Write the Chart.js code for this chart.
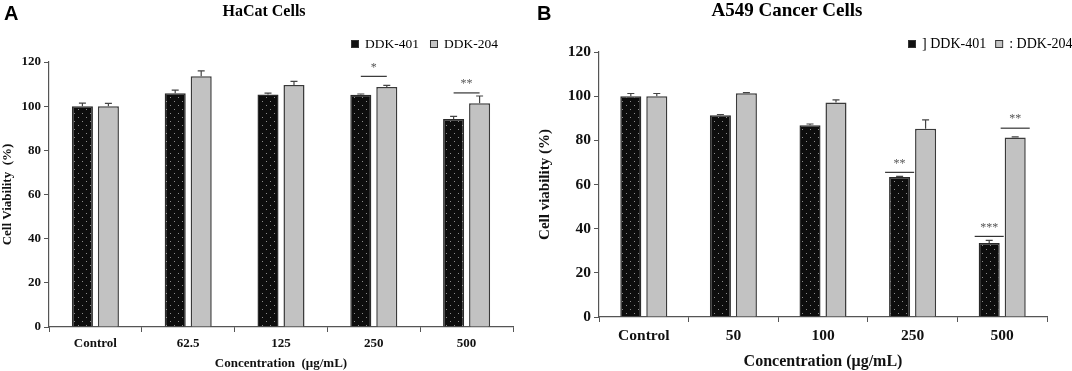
<!DOCTYPE html>
<html>
<head>
<meta charset="utf-8">
<script src="https://cdn.jsdelivr.net/npm/chart.js@4/dist/chart.umd.min.js"></script>
<style>
  html, body { margin: 0; padding: 0; background: #fff; }
  .panel { position: absolute; top: 0; width: 536px; height: 371px; }
  #panelA { left: 0; }
  #panelB { left: 536px; }
</style>
</head>
<body>
<div class="panel" id="panelA"><canvas id="chartA" width="536" height="371"></canvas></div>
<div class="panel" id="panelB"><canvas id="chartB" width="536" height="371"></canvas></div>
<script>
// Panel A: HaCat cells
var categoriesA = ['Control', '62.5', '125', '250', '500'];
var ddk401A = [100, 105.8, 105.3, 105.2, 94.2];
var ddk401ErrA = [1.4, 1.5, 0.6, 0.3, 1.2];
var ddk204A = [100, 113.6, 109.6, 108.7, 101.3];
var ddk204ErrA = [1.3, 2.4, 1.6, 0.7, 3.3];
// significance: category index, bar(s) spanned, y value of the line, label
var sigA = [
  { index: 3, bars: [0, 1], y: 113.5, label: '*' },
  { index: 4, bars: [0, 1], y: 106, label: '**' }
];

// Panel B: A549 cancer cells
var categoriesB = ['Control', '50', '100', '250', '500'];
var ddk401B = [100, 91.4, 86.8, 63.4, 33.5];
var ddk401ErrB = [1.2, 0.3, 0.6, 0.3, 1.2];
var ddk204B = [100, 101.3, 97.1, 85.3, 81.3];
var ddk204ErrB = [1.2, 0.3, 1.2, 4.0, 0.3];
var sigB = [
  { index: 3, bars: [0], y: 65.5, label: '**' },
  { index: 4, bars: [0], y: 36.5, label: '***' },
  { index: 4, bars: [1], y: 85.5, label: '**' }
];

var yTicks = [0, 20, 40, 60, 80, 100, 120];

function dotPattern() {
  var pc = document.createElement('canvas');
  pc.width = 8;
  pc.height = 8;
  var c = pc.getContext('2d');
  c.fillStyle = '#0d0d0d';
  c.fillRect(0, 0, 8, 8);
  c.fillStyle = '#8c8c8c';
  c.fillRect(2, 1, 1, 1);
  c.fillRect(6, 5, 1, 1);
  return c.createPattern(pc, 'repeat');
}

var errorBars = {
  id: 'errorBars',
  afterDatasetsDraw: function (chart, args, opts) {
    var ctx = chart.ctx;
    var y = chart.scales.y;
    ctx.save();
    ctx.strokeStyle = '#444';
    ctx.lineWidth = 1.2;
    chart.data.datasets.forEach(function (ds, di) {
      var meta = chart.getDatasetMeta(di);
      meta.data.forEach(function (bar, i) {
        var top = y.getPixelForValue(ds.data[i] + ds.errors[i]);
        ctx.beginPath();
        ctx.moveTo(bar.x, bar.y);
        ctx.lineTo(bar.x, top);
        ctx.moveTo(bar.x - 3.5, top);
        ctx.lineTo(bar.x + 3.5, top);
        ctx.stroke();
      });
    });
    ctx.restore();
  }
};

var sigMarks = {
  id: 'sigMarks',
  afterDatasetsDraw: function (chart, args, opts) {
    var ctx = chart.ctx;
    var y = chart.scales.y;
    ctx.save();
    ctx.strokeStyle = '#333';
    ctx.fillStyle = '#555';
    ctx.lineWidth = 1.2;
    ctx.font = opts.starFont;
    ctx.textAlign = 'center';
    ctx.textBaseline = 'middle';
    opts.marks.forEach(function (m) {
      var bars = m.bars.map(function (d) { return chart.getDatasetMeta(d).data[m.index]; });
      var x0, x1;
      if (bars.length > 1) {
        x0 = bars[0].x;
        x1 = bars[bars.length - 1].x;
      } else {
        x0 = bars[0].x - bars[0].width / 2 - 4;
        x1 = bars[0].x + bars[0].width / 2 + 4;
      }
      var py = y.getPixelForValue(m.y);
      ctx.beginPath();
      ctx.moveTo(x0, py);
      ctx.lineTo(x1, py);
      ctx.stroke();
      ctx.fillText(m.label, (x0 + x1) / 2, py - opts.starGap);
    });
    ctx.restore();
  }
};

var decorations = {
  id: 'decorations',
  afterDraw: function (chart, args, opts) {
    var ctx = chart.ctx;
    ctx.save();
    // panel letter
    ctx.fillStyle = '#000';
    ctx.font = 'bold 20px "Liberation Sans", Arial, sans-serif';
    ctx.textAlign = 'left';
    ctx.textBaseline = 'middle';
    ctx.fillText(opts.letter, opts.letterX, 14);
    // title
    ctx.font = opts.titleFont;
    ctx.textAlign = 'center';
    ctx.fillText(opts.title, opts.titleX, opts.titleY);
    // legend
    ctx.font = opts.legendFont;
    ctx.textAlign = 'left';
    var x = opts.legendX;
    chart.data.datasets.forEach(function (ds, di) {
      ctx.fillStyle = di === 0 ? '#111' : '#c4c4c4';
      ctx.fillRect(x, opts.legendY - 4, 7, 7);
      ctx.strokeStyle = '#333';
      ctx.lineWidth = 1;
      ctx.strokeRect(x + 0.5, opts.legendY - 3.5, 7, 7);
      ctx.fillStyle = '#000';
      var label = opts.legendLabels[di];
      ctx.fillText(label, x + opts.legendTextGap, opts.legendY);
      x += opts.legendTextGap + ctx.measureText(label).width + opts.legendItemGap;
    });
    ctx.restore();
  }
};

function makeChart(id, cfg) {
  var serif = '"Liberation Serif", "Times New Roman", serif';
  return new Chart(document.getElementById(id), {
    type: 'bar',
    data: {
      labels: cfg.labels,
      datasets: [
        {
          label: 'DDK-401',
          data: cfg.s1,
          errors: cfg.e1,
          backgroundColor: dotPattern(),
          borderColor: '#2a2a2a',
          borderWidth: 1.5,
          categoryPercentage: cfg.catPct,
          barPercentage: 0.81
        },
        {
          label: 'DDK-204',
          data: cfg.s2,
          errors: cfg.e2,
          backgroundColor: '#c2c2c2',
          borderColor: '#3a3a3a',
          borderWidth: 1.5,
          categoryPercentage: cfg.catPct,
          barPercentage: 0.81
        }
      ]
    },
    options: {
      responsive: false,
      animation: false,
      devicePixelRatio: 1,
      layout: { padding: { left: 0, right: cfg.padRight, top: cfg.padTop, bottom: 0 } },
      plugins: {
        legend: { display: false },
        title: { display: false },
        tooltip: { enabled: false },
        decorations: cfg.deco,
        sigMarks: { marks: cfg.sig, starFont: cfg.starFont, starGap: 9 }
      },
      scales: {
        x: {
          grid: { display: true, drawOnChartArea: false, tickLength: 5, color: '#555', offset: true },
          border: { color: '#555', width: 1.2 },
          ticks: { color: '#111', font: { family: serif, size: cfg.tickSize, weight: 'bold' }, padding: cfg.xTickPad },
          title: {
            display: true,
            text: cfg.xTitle,
            color: '#111',
            font: { family: serif, size: cfg.xTitleSize, weight: 'bold' },
            padding: { top: 0, bottom: 0 }
          },
          afterFit: function (s) { s.height = cfg.xHeight; }
        },
        y: {
          min: 0,
          max: 120,
          afterBuildTicks: function (s) { s.ticks = yTicks.map(function (v) { return { value: v }; }); },
          grid: { display: true, drawOnChartArea: false, tickLength: 5, color: '#555' },
          border: { color: '#555', width: 1.2 },
          ticks: { color: '#111', font: { family: serif, size: cfg.yTickSize, weight: 'bold' }, padding: 3 },
          title: {
            display: true,
            text: cfg.yTitle,
            color: '#111',
            font: { family: serif, size: cfg.yTitleSize, weight: 'bold' },
            padding: { top: 0, bottom: 0 }
          },
          afterFit: function (s) { s.width = cfg.yWidth; }
        }
      }
    },
    plugins: [errorBars, sigMarks, decorations]
  });
}

makeChart('chartA', {
  labels: categoriesA,
  s1: ddk401A, e1: ddk401ErrA, s2: ddk204A, e2: ddk204ErrA,
  sig: sigA,
  catPct: 0.56,
  padRight: 23, padTop: 62,
  yWidth: 49, xHeight: 44,
  tickSize: 13, yTickSize: 13, xTickPad: 4,
  xTitle: 'Concentration  (μg/mL)', xTitleSize: 13,
  yTitle: 'Cell Viability  (%)', yTitleSize: 13,
  starFont: '12px "Liberation Serif", serif',
  deco: {
    letter: 'A', letterX: 4,
    title: 'HaCat Cells', titleX: 264, titleY: 12, titleFont: 'bold 16px "Liberation Serif", serif',
    legendX: 351, legendY: 44, legendTextGap: 14, legendItemGap: 11,
    legendLabels: ['DDK-401', 'DDK-204'],
    legendFont: '13.5px "Liberation Serif", serif'
  }
});

makeChart('chartB', {
  labels: categoriesB,
  s1: ddk401B, e1: ddk401ErrB, s2: ddk204B, e2: ddk204ErrB,
  sig: sigB,
  catPct: 0.58,
  padRight: 25, padTop: 52,
  yWidth: 63, xHeight: 54,
  tickSize: 15.5, yTickSize: 15.5, xTickPad: 5,
  xTitle: 'Concentration (μg/mL)', xTitleSize: 16,
  yTitle: 'Cell viability (%)', yTitleSize: 15,
  starFont: '12px "Liberation Serif", serif',
  deco: {
    letter: 'B', letterX: 1,
    title: 'A549 Cancer Cells', titleX: 251, titleY: 11, titleFont: 'bold 19px "Liberation Serif", serif',
    legendX: 372, legendY: 44, legendTextGap: 14, legendItemGap: 9,
    legendLabels: ['] DDK-401', ': DDK-204'],
    legendFont: '14px "Liberation Serif", serif'
  }
});
</script>
</body>
</html>
